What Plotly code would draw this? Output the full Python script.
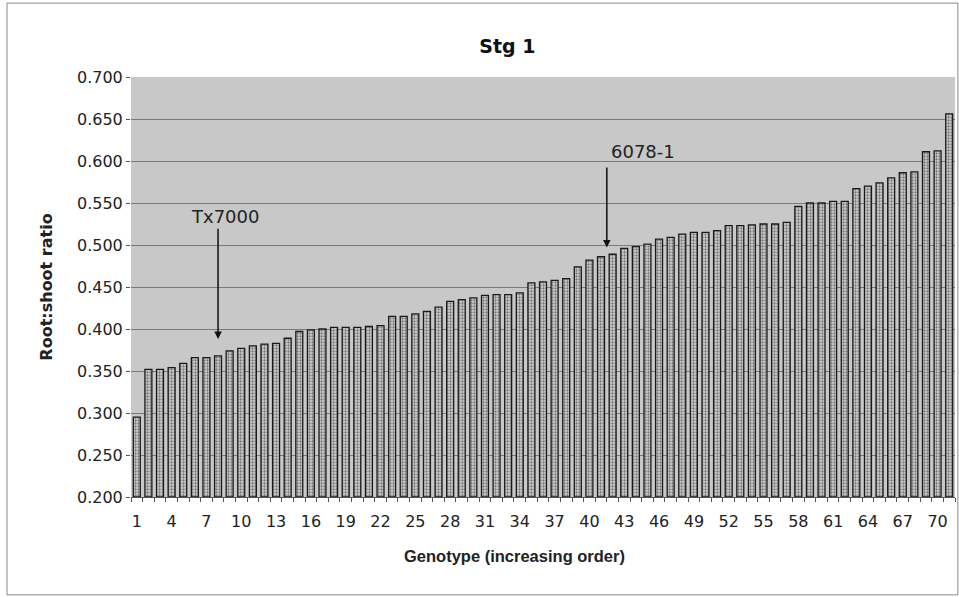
import plotly.graph_objects as go

genotype = list(range(1, 72))
ratio = [
    0.295, 0.352, 0.352, 0.354, 0.359, 0.366, 0.366, 0.368, 0.374, 0.377,
    0.380, 0.382, 0.383, 0.389, 0.397, 0.399, 0.400, 0.402, 0.402, 0.402,
    0.403, 0.404, 0.415, 0.415, 0.418, 0.421, 0.426, 0.433, 0.435, 0.437,
    0.440, 0.441, 0.441, 0.443, 0.455, 0.456, 0.458, 0.460, 0.474, 0.482,
    0.486, 0.489, 0.496, 0.498, 0.501, 0.507, 0.509, 0.513, 0.515, 0.515,
    0.517, 0.523, 0.523, 0.524, 0.525, 0.525, 0.527, 0.546, 0.550, 0.550,
    0.552, 0.552, 0.567, 0.570, 0.574, 0.580, 0.586, 0.587, 0.611, 0.612,
    0.656,
]
x_ticks = list(range(1, 71, 3))
y_ticks = [0.2, 0.25, 0.3, 0.35, 0.4, 0.45, 0.5, 0.55, 0.6, 0.65, 0.7]

fig = go.Figure()
fig.add_trace(go.Bar(
    x=genotype, y=[v - 0.2 for v in ratio], base=0.2,
    marker=dict(color="#a0a0a0", line=dict(color="#1a1a1a", width=1.3),
                pattern=dict(shape=".", fgcolor="#222222", bgcolor="#cfcfcf", size=3, solidity=0.45)),
    width=0.6, showlegend=False, hoverinfo="skip",
))

fnt = "DejaVu Sans, Verdana, sans-serif"
fig.update_layout(
    width=959, height=597,
    margin=dict(l=131, r=4, t=77, b=100),
    paper_bgcolor="white", plot_bgcolor="#c8c8c8",
    font=dict(family=fnt, size=16, color="#222222"),
    title=dict(text="<b>Stg 1</b>", x=0.529, xanchor="center", y=0.922, yanchor="middle",
               font=dict(size=19, color="#111111")),
    xaxis=dict(range=[0.5, 71.5], tickmode="array", tickvals=x_ticks,
               ticks="", showgrid=False, zeroline=False,
               showline=True, linecolor="#555555", linewidth=1,
               minor=dict(ticks="outside", tick0=0.5, dtick=1, ticklen=4, tickcolor="#555555", showgrid=False),
               tickfont=dict(size=16), ticklabelstandoff=10),
    yaxis=dict(range=[0.2, 0.7], tickmode="array", tickvals=y_ticks, tickformat=".3f",
               ticks="outside", ticklen=4, tickcolor="#555555",
               showgrid=True, gridcolor="#7a7a7a", gridwidth=1, zeroline=False,
               showline=False, tickfont=dict(size=16),
               title=dict(text="<b>Root:shoot ratio</b>", font=dict(size=16), standoff=20)),
    bargap=0.4,
    shapes=[dict(type="rect", xref="paper", yref="paper", x0=-0.1505, x1=1.0035, y0=-0.233, y1=1.176,
                 line=dict(color="#888888", width=1), fillcolor="rgba(0,0,0,0)", layer="below")],
    annotations=[
        dict(x=0.466, y=-0.14, xref="paper", yref="paper", xanchor="center", yanchor="middle",
             text="<b>Genotype (increasing order)</b>", showarrow=False,
             font=dict(family="Liberation Sans, Arial, sans-serif", size=16.5, color="#222222")),
        dict(x=8, y=0.388, ax=8, ay=0.521, xref="x", yref="y", axref="x", ayref="y",
             text="", showarrow=True, arrowhead=2, arrowsize=1, arrowwidth=1.5, arrowcolor="#111111"),
        dict(x=8.6, y=0.5345, xref="x", yref="y", text="Tx7000", showarrow=False,
             font=dict(size=18, color="#222222")),
        dict(x=41.5, y=0.497, ax=41.5, ay=0.594, xref="x", yref="y", axref="x", ayref="y",
             text="", showarrow=True, arrowhead=2, arrowsize=1, arrowwidth=1.5, arrowcolor="#111111"),
        dict(x=44.6, y=0.611, xref="x", yref="y", text="6078-1", showarrow=False,
             font=dict(size=18, color="#222222")),
    ],
)

fig.write_html("out.html", config={"displayModeBar": False},
               post_script="document.body.style.margin='0';document.body.style.overflow='hidden';")
